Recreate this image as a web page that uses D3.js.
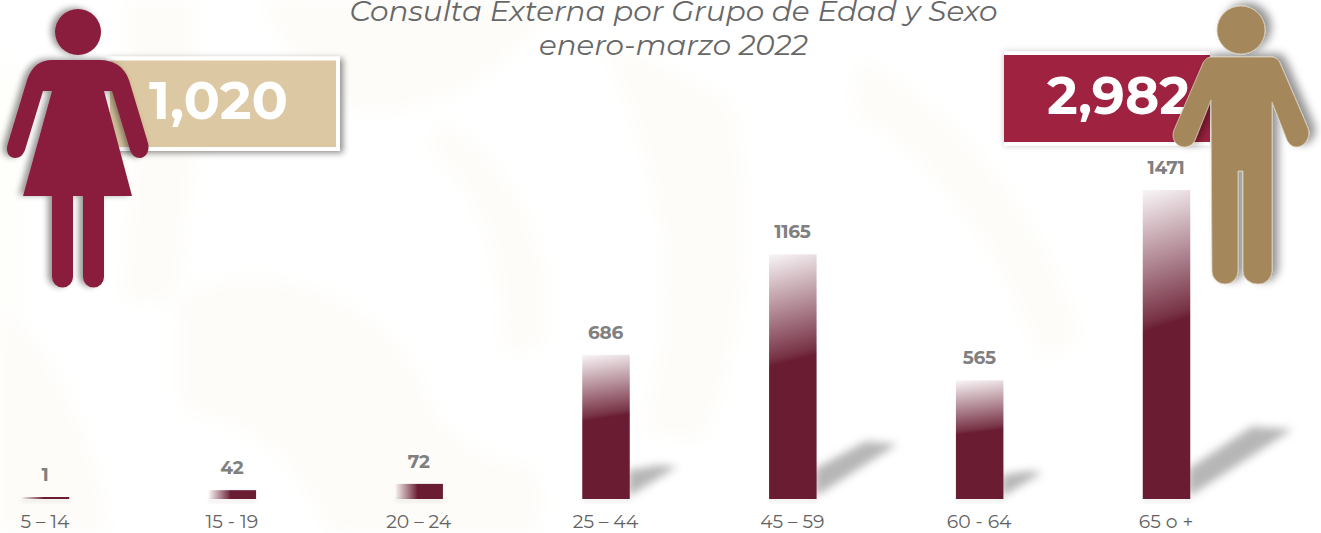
<!DOCTYPE html>
<html><head><meta charset="utf-8">
<script src="https://cdn.jsdelivr.net/npm/d3@7"></script>
<style>html,body{margin:0;padding:0;background:#fff;overflow:hidden}svg{display:block}</style>
</head><body><svg id="c" width="1321" height="533"></svg>
<script>
const categories = ["5 – 14","15 - 19","20 – 24","25 – 44","45 – 59","60 - 64","65 o +"];
const values = [1,42,72,686,1165,565,1471];
const titleLines = ["Consulta Externa por Grupo de Edad y Sexo","enero-marzo 2022"];
const totals = ["1,020","2,982"];
const FONT = "Montserrat, Inter, 'Open Sans', sans-serif";
const svg = d3.select("#c"), defs = svg.append("defs");
const x = d3.scalePoint().domain(categories).range([45.5,1166.5]);
const y = d3.scaleLinear().domain([0,1471]).range([499,190]);
const barW = 47.5;

function blur(id,s){defs.append("filter").attr("id",id).attr("x","-40%").attr("y","-60%").attr("width","180%").attr("height","220%")
  .append("feGaussianBlur").attr("stdDeviation",s);}
blur("b8",10); blur("b3",4.2); blur("b2",2.2);
function drop(id,dx,dy,s,o){defs.append("filter").attr("id",id).attr("x","-30%").attr("y","-30%").attr("width","160%").attr("height","160%")
  .append("feDropShadow").attr("dx",dx).attr("dy",dy).attr("stdDeviation",s).attr("flood-color","#000").attr("flood-opacity",o);}
drop("sW",-4,-1,3,.42); drop("sM",6,-3,4,.42); drop("sB",3,2,3,.45); drop("sR",0,0,3,.22);

function grad(id,x1,y1,x2,y2){const g=defs.append("linearGradient").attr("id",id)
  .attr("x1",x1).attr("y1",y1).attr("x2",x2).attr("y2",y2);
  [[0,.04],[.43,.9],[.46,1],[1,1]].forEach(([o,a])=>g.append("stop").attr("offset",o).attr("stop-color","#691c32").attr("stop-opacity",a));}
grad("gV",0,0,0.05,1); grad("gH",0,0,1,0);

// faint watermark
const wm = svg.append("g").attr("fill","#fdfcf8").attr("filter","url(#b8)");
["M0,60 L14,60 L14,533 L0,533 Z",
 "M125,0 L195,0 C190,90 195,200 175,300 L120,300 C140,200 135,90 125,0 Z",
 "M180,300 C260,250 380,300 420,380 C440,440 470,460 540,470 L540,533 L330,533 C300,470 270,420 180,410 Z",
 "M260,0 L560,0 C500,80 420,120 350,110 C310,70 280,40 260,0 Z",
 "M440,120 C520,170 560,260 540,350 L500,350 C510,260 480,190 430,150 Z",
 "M600,40 L730,100 C760,230 740,360 700,440 L640,430 C680,330 680,200 600,40 Z",
 "M0,300 C40,340 90,420 110,533 L0,533 Z",
 "M860,60 C960,110 1050,230 1080,340 L1040,360 C1000,240 930,150 850,110 Z"
].forEach(d=>wm.append("path").attr("d",d));

// title
svg.append("g").selectAll("text").data(titleLines).join("text")
  .attr("x",673.5).attr("y",(d,i)=>i?55:20.5).attr("text-anchor","middle")
  .attr("textLength",(d,i)=>i?269:648).attr("lengthAdjust","spacingAndGlyphs")
  .attr("font-family",FONT).attr("font-style","italic").attr("font-size",28).attr("fill","#676767").text(d=>d);

// bar shadows
svg.append("g").selectAll("path").data(values.filter(v=>v>100)).join("path")
  .attr("filter","url(#b3)").attr("fill","#aeaeae").attr("opacity",.9)
  .attr("d",v=>{const h=y(0)-y(v),X=x(categories[values.indexOf(v)])+barW/2;
    const p=d3.path();p.moveTo(X-2,y(0)-2);p.lineTo(X-2,y(0)-Math.min(30,h*.2));
    p.lineTo(X+h*.20,y(0)-h*.235);p.lineTo(X+h*.33,y(0)-h*.225);p.closePath();return p.toString();});

// soft glow under bars
svg.append("g").selectAll("rect").data(values).join("rect")
  .attr("x",(d,i)=>x(categories[i])-barW/2).attr("width",barW).attr("y",y(0)).attr("height",3)
  .attr("fill","#ccc").attr("opacity",.4).attr("filter","url(#b2)");

// bars
svg.append("g").selectAll("rect").data(values).join("rect")
  .attr("x",(d,i)=>x(categories[i])-barW/2).attr("width",barW)
  .attr("y",d=>y(0)-Math.max(y(0)-y(d),2)).attr("height",d=>Math.max(y(0)-y(d),2))
  .attr("fill",d=>d<100?"url(#gH)":"url(#gV)");

// value labels
svg.append("g").selectAll("text").data(values).join("text")
  .attr("x",(d,i)=>x(categories[i])-.5).attr("y",d=>y(0)-Math.max(y(0)-y(d),2)-16)
  .attr("text-anchor","middle").attr("font-family",FONT).attr("font-weight",700).attr("font-size",18.5)
  .attr("letter-spacing",-.3).attr("fill","#808080").text(d=>d);

// category axis
const ax = svg.append("g").attr("transform","translate(0,499)")
  .call(d3.axisBottom(x).tickSize(0).tickPadding(0));
ax.select(".domain").remove();
ax.selectAll("text").attr("x",-1).attr("y",0).attr("dy",29).attr("font-family",FONT).attr("font-size",18.8).attr("fill","#636363");

// left total
svg.append("rect").attr("x",108).attr("y",58.5).attr("width",230).attr("height",90.5)
  .attr("fill","#dcc8a2").attr("stroke","#fff").attr("stroke-width",4).attr("filter","url(#sB)");
svg.append("text").attr("x",218.5).attr("y",118.5).attr("text-anchor","middle").attr("font-family",FONT)
  .attr("font-weight",700).attr("font-size",53).attr("textLength",139).attr("lengthAdjust","spacingAndGlyphs").attr("fill","#fff").text(totals[0]);

// woman pictogram
const w = svg.append("g").attr("fill","#8a1f3c").attr("filter","url(#sW)");
w.append("circle").attr("cx",78).attr("cy",32).attr("r",23);
w.append("path").attr("d","M52,60 L100,60 C113,60 124,66 129,80 L148,143 C150,151 146,158 140,158 C135,158 132,155 130,150 L112,91 L104,91 L132,196 L104,196 L104,277 A10.5,10.5 0 0 1 83,277 L83,196 L73,196 L73,277 A10.5,10.5 0 0 1 52,277 L52,196 L23,196 L52,91 L43,91 L25,150 C23,155 20,158 15,158 C9,158 5,152 8,143 L27,80 C32,66 40,60 52,60 Z");

// right total
svg.append("rect").attr("x",1004).attr("y",51.5).attr("width",206).attr("height",94).attr("fill","#fff").attr("filter","url(#sR)");
svg.append("rect").attr("x",1004).attr("y",55).attr("width",206).attr("height",87).attr("fill","#9f2241");
svg.append("text").attr("x",1118.5).attr("y",114).attr("text-anchor","middle").attr("font-family",FONT)
  .attr("font-weight",700).attr("font-size",53).attr("textLength",143).attr("lengthAdjust","spacingAndGlyphs").attr("fill","#fff").text(totals[1]);

// man pictogram
const m = svg.append("g").attr("fill","#a5875b").attr("stroke","#d9cdb8").attr("stroke-width",.8).attr("filter","url(#sM)");
m.append("circle").attr("cx",1241).attr("cy",30).attr("r",24);
m.append("path").attr("d","M1212,57 L1271,57 C1275,57 1278,59 1280,63 L1308,128 C1311,136 1306,146 1297,147 C1292,147 1289,144 1287,140 L1272,102 L1272,271 A13.5,13.5 0 0 1 1258,284 A14.5,13 0 0 1 1243,271 L1243,171 L1238,171 L1238,271 A13,13 0 0 1 1225,284 A13,13 0 0 1 1212,271 L1211,100 L1195,140 C1193,145 1188,147 1184,147 C1175,146 1171,138 1174,130 L1203,63 C1205,59 1208,57 1212,57 Z");
</script></body></html>
